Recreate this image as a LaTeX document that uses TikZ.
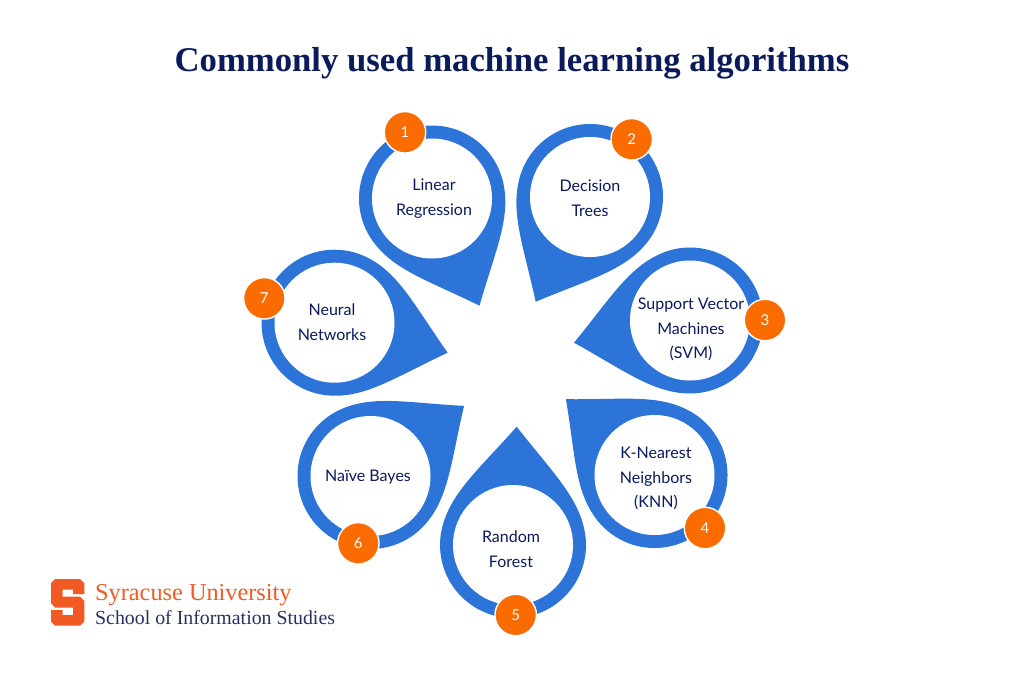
\documentclass[tikz,border=0pt]{standalone}
\usepackage{fontspec}
\setmainfont{Lato}
\newfontfamily\titlefont{Liberation Serif}
\definecolor{pinblue}{HTML}{2D74D8}
\definecolor{badgeorange}{HTML}{FA6B00}
\definecolor{navy}{HTML}{0B1A5B}
\definecolor{logoorange}{HTML}{F15A22}
\definecolor{logonavy}{HTML}{28305F}
\tikzset{
  pinbody/.style={fill=pinblue,draw=none},
  hole/.style={circle,fill=white,draw=none,minimum size=120pt,inner sep=0pt},
  label text/.style={text=navy,font=\fontsize{16}{24.5}\selectfont,align=center,inner sep=0pt},
  badge/.style={circle,fill=badgeorange,draw=white,line width=1.4pt,minimum size=41.5pt,inner sep=0pt,text=white,font=\fontsize{15}{18}\selectfont},
}
\newcommand{\pinshape}[5]{%
  \pgfmathsetmacro{\pinang}{atan2(-(#5-#3),#4-#2)}%
  \pgfmathsetmacro{\pind}{veclen(#4-#2,#5-#3)}%
  \begin{scope}[shift={(#2,#3)},rotate=\pinang]
    \path[pinbody] (\pind,0)
      .. controls (\pind-42,35) and (52,62) .. ({73*cos(75)},{73*sin(75)})
      arc[start angle=75,delta angle=210,radius=73]
      .. controls (52,-62) and (\pind-42,-35) .. (\pind,0) -- cycle;
  \end{scope}%
  \node[hole] (#1) at (#2,#3) {};%
}
\begin{document}
\begin{tikzpicture}[x=1pt,y=-1pt]
\useasboundingbox (0,0) rectangle (1024,683);
\node[anchor=base,text=navy,inner sep=0pt,font=\titlefont\bfseries\fontsize{34.7}{40}\selectfont] (title) at (512,71) {Commonly used machine learning algorithms};

\pinshape{h1}{432}{198.5}{479.5}{305.7}
\pinshape{h2}{590}{197}{535.7}{301.7}
\pinshape{h3}{690}{320.5}{574}{342.7}
\pinshape{h4}{654.5}{475}{565.7}{399}
\pinshape{h5}{513}{545}{516.7}{426.7}
\pinshape{h6}{370.5}{476}{464.3}{405.7}
\pinshape{h7}{334.5}{322.7}{447.7}{352.7}

\node[label text] (t1) at (434,198.5) {Linear\\Regression};
\node[label text] (t2) at (590,198) {Decision\\Trees};
\node[label text] (t3) at (691,329.5) {Support Vector\\Machines\\(SVM)};
\node[label text] (t4) at (656,478.5) {K-Nearest\\Neighbors\\(KNN)};
\node[label text] (t5) at (511,549) {Random\\Forest};
\node[label text] (t6) at (368,477.5) {Naïve Bayes};
\node[label text] (t7) at (332,322) {Neural\\Networks};

\node[badge] (b1) at (405,132.3) {1};
\node[badge] (b2) at (631.7,139.3) {2};
\node[badge] (b3) at (765,320) {3};
\node[badge] (b4) at (705,528) {4};
\node[badge] (b5) at (515.7,615) {5};
\node[badge] (b6) at (358.3,543.3) {6};
\node[badge] (b7) at (264.3,298.3) {7};

\fill[logoorange] (55,579) -- (80,579) -- (84.3,583) -- (84.3,594) -- (73,594) -- (73,589.5) -- (62.5,589.5) -- (62.5,596.5) -- (80,596.5) -- (84.3,601) -- (84.3,621.5) -- (80,625.7) -- (55,625.7) -- (51,621.5) -- (51,610) -- (62.5,610) -- (62.5,615) -- (73,615) -- (73,607.5) -- (55,607.5) -- (51,603) -- (51,583) -- cycle;
\node[anchor=base west,inner sep=0pt,text=logoorange,font=\titlefont\fontsize{24.3}{28}\selectfont] (su) at (95,600) {Syracuse University};
\node[anchor=base west,inner sep=0pt,text=logonavy,font=\titlefont\fontsize{19.85}{24}\selectfont] (sis) at (95,624) {School of Information Studies};
\end{tikzpicture}
\end{document}
